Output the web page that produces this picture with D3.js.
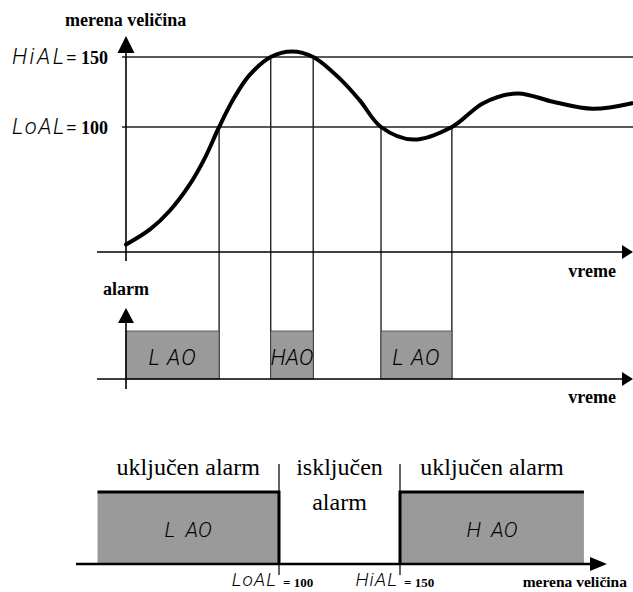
<!DOCTYPE html>
<html>
<head>
<meta charset="utf-8">
<script src="https://cdn.jsdelivr.net/npm/d3@7/dist/d3.min.js"></script>
<style>
    body { margin: 0; background: #fff; }
    .bold { font-family: "Liberation Serif", "Times New Roman", serif; font-weight: bold; }
    .serif { font-family: "Liberation Serif", "Times New Roman", serif; }
    .lcd { font-family: Roboto, "Open Sans", sans-serif; font-weight: 300; font-style: italic; }
</style>
</head>
<body>
<div id="chart"></div>
<script>
// measured value over time (top chart)
var timeSec = [0, 2.4, 4.3, 6.3, 7.8, 9.2, 10.7, 12.2, 14.3, 16.4, 18.5, 21.2, 23.1, 25.2, 28.4, 32.2, 35.3, 38.7, 42.2, 46.1, 50];
var measured = [16, 27, 40, 59, 78, 100, 121, 137, 150, 154, 150, 134, 119, 100, 91, 100, 117, 124, 118, 113, 117];

// alarm limits
var limitNames = ["HiAL", "LoAL"];
var limitValues = [150, 100];

// where the curve crosses a limit
var crossTimes = [9.2, 14.3, 18.5, 25.2, 32.2];
var crossLevels = [100, 150, 150, 100, 100];

// alarm output over time
var alarmFrom = [0, 14.3, 25.2];
var alarmTo = [9.2, 18.5, 32.2];
var alarmCodes = ["L AO", "HAO", "L AO"];

// alarm state vs measured value (bottom chart)
var zoneFrom = [25, 150];
var zoneTo = [100, 226];
var zoneCodes = ["L  AO", "H  AO"];
var zoneTitles = ["uključen alarm", "uključen alarm"];
var offTitle = ["isključen", "alarm"];

var width = 633,
    height = 592;

var svg = d3.select("#chart")
    .append("svg")
    .attr("width", width)
    .attr("height", height);

// scales
var x = d3.scaleLinear().domain([0, 50]).range([126, 632]);
var y = d3.scaleLinear().domain([100, 150]).range([127, 57]);
var yAlarm = d3.scaleLinear().domain([0, 1]).range([379, 331]);
var xVal = d3.scaleLinear().domain([100, 150]).range([279, 400]);
var yZone = d3.scaleLinear().domain([0, 1]).range([564, 492]);

function arrow(px, py, dir, len, half) {
    var p;
    if (dir == "up") p = [[px, py], [px - half, py + len], [px + half, py + len]];
    else p = [[px, py], [px - len, py - half], [px - len, py + half]];
    svg.append("path")
        .attr("d", "M" + p.join("L") + "Z")
        .attr("fill", "#000");
}

function line(x1, y1, x2, y2, w, c) {
    svg.append("line")
        .attr("x1", x1).attr("y1", y1)
        .attr("x2", x2).attr("y2", y2)
        .attr("stroke", c || "#000")
        .attr("stroke-width", w);
}

// ---------- top: measured value ----------
var axisY = 252;

// limit lines
svg.append("g")
    .selectAll("line")
    .data(limitValues)
    .enter()
    .append("line")
    .attr("x1", 122)
    .attr("x2", width)
    .attr("y1", d => y(d))
    .attr("y2", d => y(d))
    .attr("stroke", "#222")
    .attr("stroke-width", 1.3);

// limit labels
limitNames.forEach(function (n, i) {
    svg.append("text")
        .attr("class", "lcd")
        .attr("x", 12)
        .attr("y", y(limitValues[i]) + 7)
        .attr("font-size", 22)
        .attr("letter-spacing", n == "HiAL" ? 2.5 : 1.5)
        .text(n);
    svg.append("text")
        .attr("class", "bold")
        .attr("x", 108)
        .attr("y", y(limitValues[i]) + 7)
        .attr("text-anchor", "end")
        .attr("font-size", 18)
        .text("= " + limitValues[i]);
});

// vertical lines from crossings down to alarm axis
svg.append("g")
    .selectAll("line")
    .data(crossTimes)
    .enter()
    .append("line")
    .attr("x1", d => x(d))
    .attr("x2", d => x(d))
    .attr("y1", (d, i) => y(crossLevels[i]))
    .attr("y2", yAlarm(0))
    .attr("stroke", "#222")
    .attr("stroke-width", 1.4);

// axes
line(97, axisY, 624, axisY, 1.6);
arrow(633, axisY, "right", 11, 7);
line(x(0), 261, x(0), 50, 1.6);
arrow(x(0), 36, "up", 17, 8.5);

// curve
var pts = timeSec.map((t, i) => [t, measured[i]]);
svg.append("path")
    .datum(pts)
    .attr("fill", "none")
    .attr("stroke", "#000")
    .attr("stroke-width", 4)
    .attr("stroke-linecap", "round")
    .attr("d", d3.line()
        .x(d => x(d[0]))
        .y(d => y(d[1]))
        .curve(d3.curveCatmullRom.alpha(0.5)));

svg.append("text").attr("class", "bold").attr("x", 65).attr("y", 26)
    .attr("font-size", 18).text("merena veličina");
svg.append("text").attr("class", "bold").attr("x", 616).attr("y", 277)
    .attr("text-anchor", "end").attr("font-size", 18).text("vreme");

// ---------- middle: alarm over time ----------
svg.append("g")
    .selectAll("rect")
    .data(alarmFrom)
    .enter()
    .append("rect")
    .attr("x", d => x(d))
    .attr("y", yAlarm(1))
    .attr("width", (d, i) => x(alarmTo[i]) - x(d))
    .attr("height", yAlarm(0) - yAlarm(1))
    .attr("fill", "#9a9a9a")
    .attr("stroke", "#444")
    .attr("stroke-width", 0.8);

svg.append("g")
    .selectAll("text")
    .data(alarmCodes)
    .enter()
    .append("text")
    .attr("class", "lcd")
    .attr("x", (d, i) => (x(alarmFrom[i]) + x(alarmTo[i])) / 2)
    .attr("y", 365)
    .attr("text-anchor", "middle")
    .attr("font-size", 22)
    .attr("letter-spacing", (d) => d == "HAO" ? 0 : 1)
    .text(d => d);

line(97, yAlarm(0), 624, yAlarm(0), 1.6);
arrow(633, yAlarm(0), "right", 11, 7);
line(x(0), 389, x(0), 322, 1.6);
arrow(x(0), 308, "up", 15, 8);

svg.append("text").attr("class", "bold").attr("x", 103).attr("y", 295)
    .attr("font-size", 18).text("alarm");
svg.append("text").attr("class", "bold").attr("x", 616).attr("y", 403)
    .attr("text-anchor", "end").attr("font-size", 18).text("vreme");

// ---------- bottom: alarm vs measured value ----------
svg.append("g")
    .selectAll("rect")
    .data(zoneFrom)
    .enter()
    .append("rect")
    .attr("x", d => xVal(d))
    .attr("y", yZone(1))
    .attr("width", (d, i) => xVal(zoneTo[i]) - xVal(d))
    .attr("height", yZone(0) - yZone(1))
    .attr("fill", "#9a9a9a");

// thin limit markers
limitValues.forEach(function (v) {
    line(xVal(v), 464, xVal(v), 575, 1.4, "#222");
});

// thick edges of the on-zones
svg.append("g")
    .selectAll("path")
    .data(zoneFrom)
    .enter()
    .append("path")
    .attr("fill", "none")
    .attr("stroke", "#000")
    .attr("stroke-width", 3)
    .attr("d", function (d, i) {
        var a = xVal(d), b = xVal(zoneTo[i]);
        if (i == 0) return "M" + a + "," + yZone(1) + "H" + b + "V" + yZone(0);
        return "M" + b + "," + yZone(1) + "H" + a + "V" + yZone(0);
    });

svg.append("g")
    .selectAll("text")
    .data(zoneCodes)
    .enter()
    .append("text")
    .attr("class", "lcd")
    .attr("x", (d, i) => (xVal(zoneFrom[i]) + xVal(zoneTo[i])) / 2)
    .attr("y", 537)
    .attr("text-anchor", "middle")
    .attr("font-size", 21)
    .style("white-space", "pre")
    .text(d => d);

svg.append("g")
    .selectAll("text")
    .data(zoneTitles)
    .enter()
    .append("text")
    .attr("class", "serif")
    .attr("x", (d, i) => (xVal(zoneFrom[i]) + xVal(zoneTo[i])) / 2)
    .attr("y", 475)
    .attr("text-anchor", "middle")
    .attr("font-size", 24)
    .text(d => d);

offTitle.forEach(function (t, i) {
    svg.append("text")
        .attr("class", "serif")
        .attr("x", (xVal(100) + xVal(150)) / 2)
        .attr("y", 475 + i * 35)
        .attr("text-anchor", "middle")
        .attr("font-size", 24)
        .text(t);
});

line(76, yZone(0), 592, yZone(0), 2.4);
arrow(607, yZone(0), "right", 17, 7);

// limit labels under the axis
limitNames.forEach(function (n, i) {
    var lx = xVal(limitValues[i]);
    svg.append("text")
        .attr("class", "lcd")
        .attr("x", lx - 2)
        .attr("y", 586)
        .attr("text-anchor", "end")
        .attr("font-size", 19)
        .attr("letter-spacing", 1)
        .text(n);
    svg.append("text")
        .attr("class", "bold")
        .attr("x", lx + 4)
        .attr("y", 587)
        .attr("font-size", 13)
        .text("= " + limitValues[i]);
});

svg.append("text").attr("class", "bold").attr("x", 627).attr("y", 587)
    .attr("text-anchor", "end").attr("font-size", 15.5).text("merena veličina");
</script>
</body>
</html>
